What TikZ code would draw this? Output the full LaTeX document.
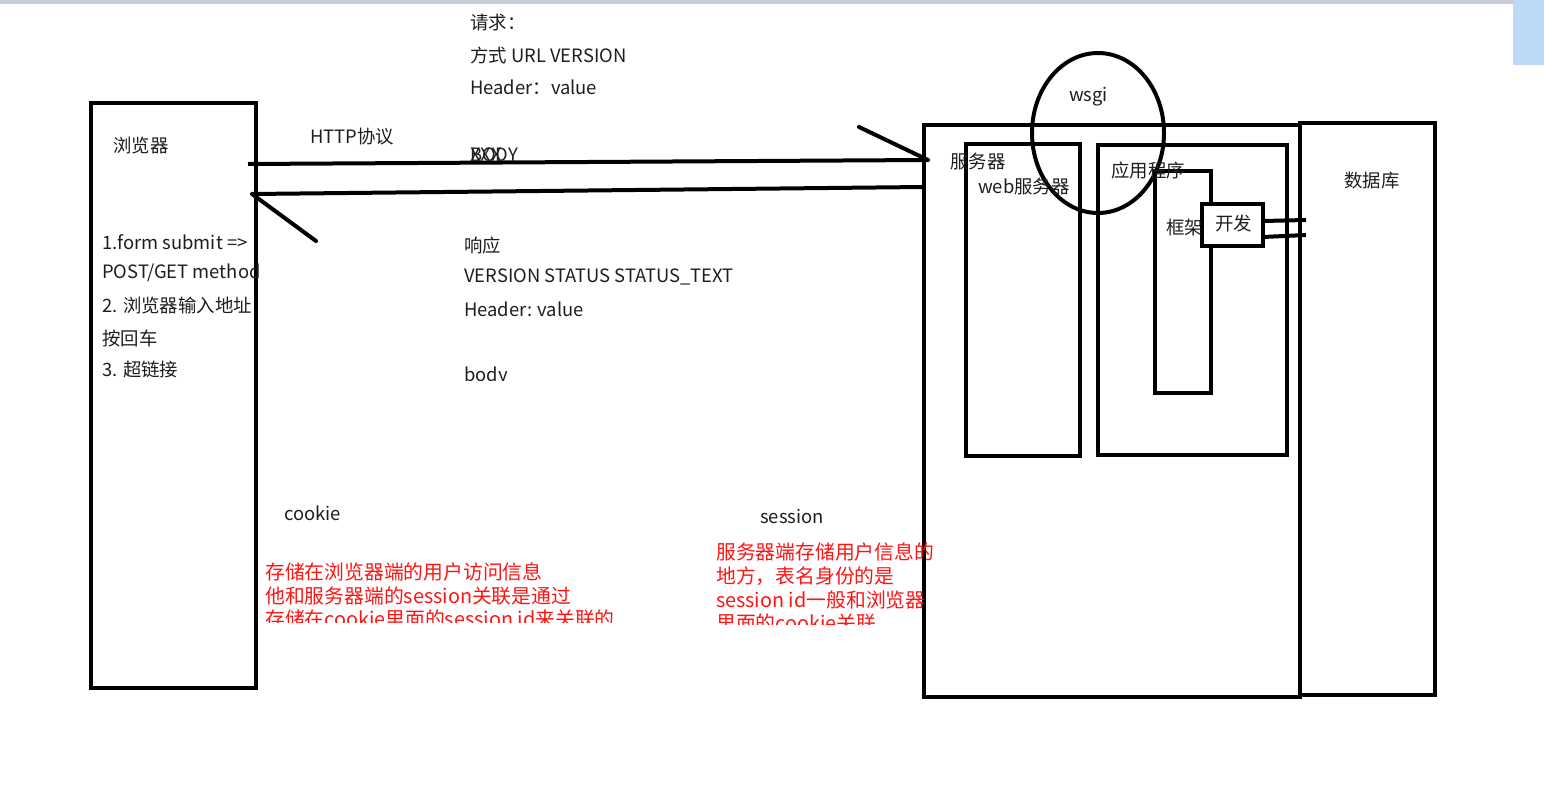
\documentclass[tikz,border=0pt]{standalone}
\usepackage{fontspec}
\setmainfont{Noto Sans CJK SC}
\definecolor{txtc}{RGB}{30,30,30}
\definecolor{redc}{RGB}{255,20,20}
\definecolor{barc}{RGB}{200,206,216}
\definecolor{bluec}{RGB}{190,216,248}
\begin{document}
\begin{tikzpicture}[x=1pt,y=-1pt,
  txt/.style={anchor=west,inner sep=0pt,text=txtc,font=\fontsize{18.4}{20}\selectfont},
  rtxt/.style={anchor=west,inner sep=0pt,text=redc,font=\fontsize{19.8}{22}\selectfont},
  thick line/.style={line width=4pt,draw=black},
  ]
\useasboundingbox (0,0) rectangle (1544,791);
\fill[white] (0,0) rectangle (1544,791);
\fill[barc] (0,0) rectangle (1544,4);
\fill[bluec] (1513,0) rectangle (1544,65);

% browser
\draw[thick line] (91,103) rectangle (256,688);
\node[txt] (browser) at (113,146) {浏览器};
\node[txt] (l1) at (102,242) {1.form submit =>};
\node[txt] (l2) at (102,273) {POST/GET method};
\node[txt] (l3) at (102,305) {2. 浏览器输入地址};
\node[txt] (l4) at (102,338) {按回车};
\node[txt] (l5) at (102,369) {3. 超链接};

% arrows
\coordinate (reqS) at (248,164);
\coordinate (reqE) at (928,160);
\coordinate (reqH) at (859,127);
\coordinate (resS) at (924,187);
\coordinate (resE) at (252,194);
\coordinate (resH) at (316,241);
\draw[thick line] (reqS) -- (reqE);
\draw[thick line,line cap=round] (reqH) -- (reqE);
\draw[thick line] (resS) -- (resE);
\draw[thick line,line cap=round] (resE) -- (resH);
\node[txt] (http) at (310,137) {HTTP协议};

% request text
\node[txt] (q1) at (470,23) {请求：};
\node[txt] (q2) at (470,55) {方式 URL VERSION};
\node[txt] (q3) at (470,87) {Header：value};
\node[txt] (q4) at (470,155) {XXX};
\node[txt] (q5) at (470,155) {BODY};

% response text
\node[txt] (r1) at (464,246) {响应};
\node[txt] (r2) at (464,277) {VERSION STATUS STATUS\_TEXT};
\node[txt] (r3) at (464,309) {Header: value};
\begin{scope}
\clip (440,340) rectangle (700,380);
\node[txt] (r4) at (464,376) {body};
\end{scope}

% server
\draw[thick line] (924,125) rectangle (1300,697);
\draw[thick line] (1300,123) rectangle (1435,695);
\draw[thick line] (966,144) rectangle (1080,456);
\draw[thick line] (1098,145) rectangle (1287,455);
\draw[thick line] (1155,171) rectangle (1211,393);
\draw[thick line,fill=white] (1202,204) rectangle (1263,246);
\draw[thick line] (1263,221) -- (1306,220);
\draw[thick line] (1263,237) -- (1306,235);
\draw[thick line] (1098,133) ellipse [x radius=66,y radius=80];
\node[txt] (wsgi) at (1069,97) {wsgi};
\node[txt] (srv) at (950,162) {服务器};
\node[txt] (web) at (978,187) {web服务器};
\node[txt] (app) at (1111,171) {应用程序};
\node[txt] (fw) at (1166,228) {框架};
\node[txt] (dev) at (1215,224) {开发};
\node[txt] (db) at (1344,181) {数据库};

% cookie / session
\node[txt] (cookie) at (284,513) {cookie};
\node[txt] (session) at (760,516) {session};
\begin{scope}
\clip (250,550) rectangle (700,622);
\node[rtxt] (c1) at (265,572) {存储在浏览器端的用户访问信息};
\node[rtxt] (c2) at (265,596) {他和服务器端的session关联是通过};
\node[rtxt] (c3) at (265,619) {存储在cookie里面的session id来关联的};
\end{scope}
\begin{scope}
\clip (700,535) rectangle (960,624);
\node[rtxt] (s1) at (716,552) {服务器端存储用户信息的};
\node[rtxt] (s2) at (716,576) {地方，表名身份的是};
\node[rtxt] (s3) at (716,600) {session id一般和浏览器};
\node[rtxt] (s4) at (716,623) {里面的cookie关联};
\end{scope}
\end{tikzpicture}
\end{document}
